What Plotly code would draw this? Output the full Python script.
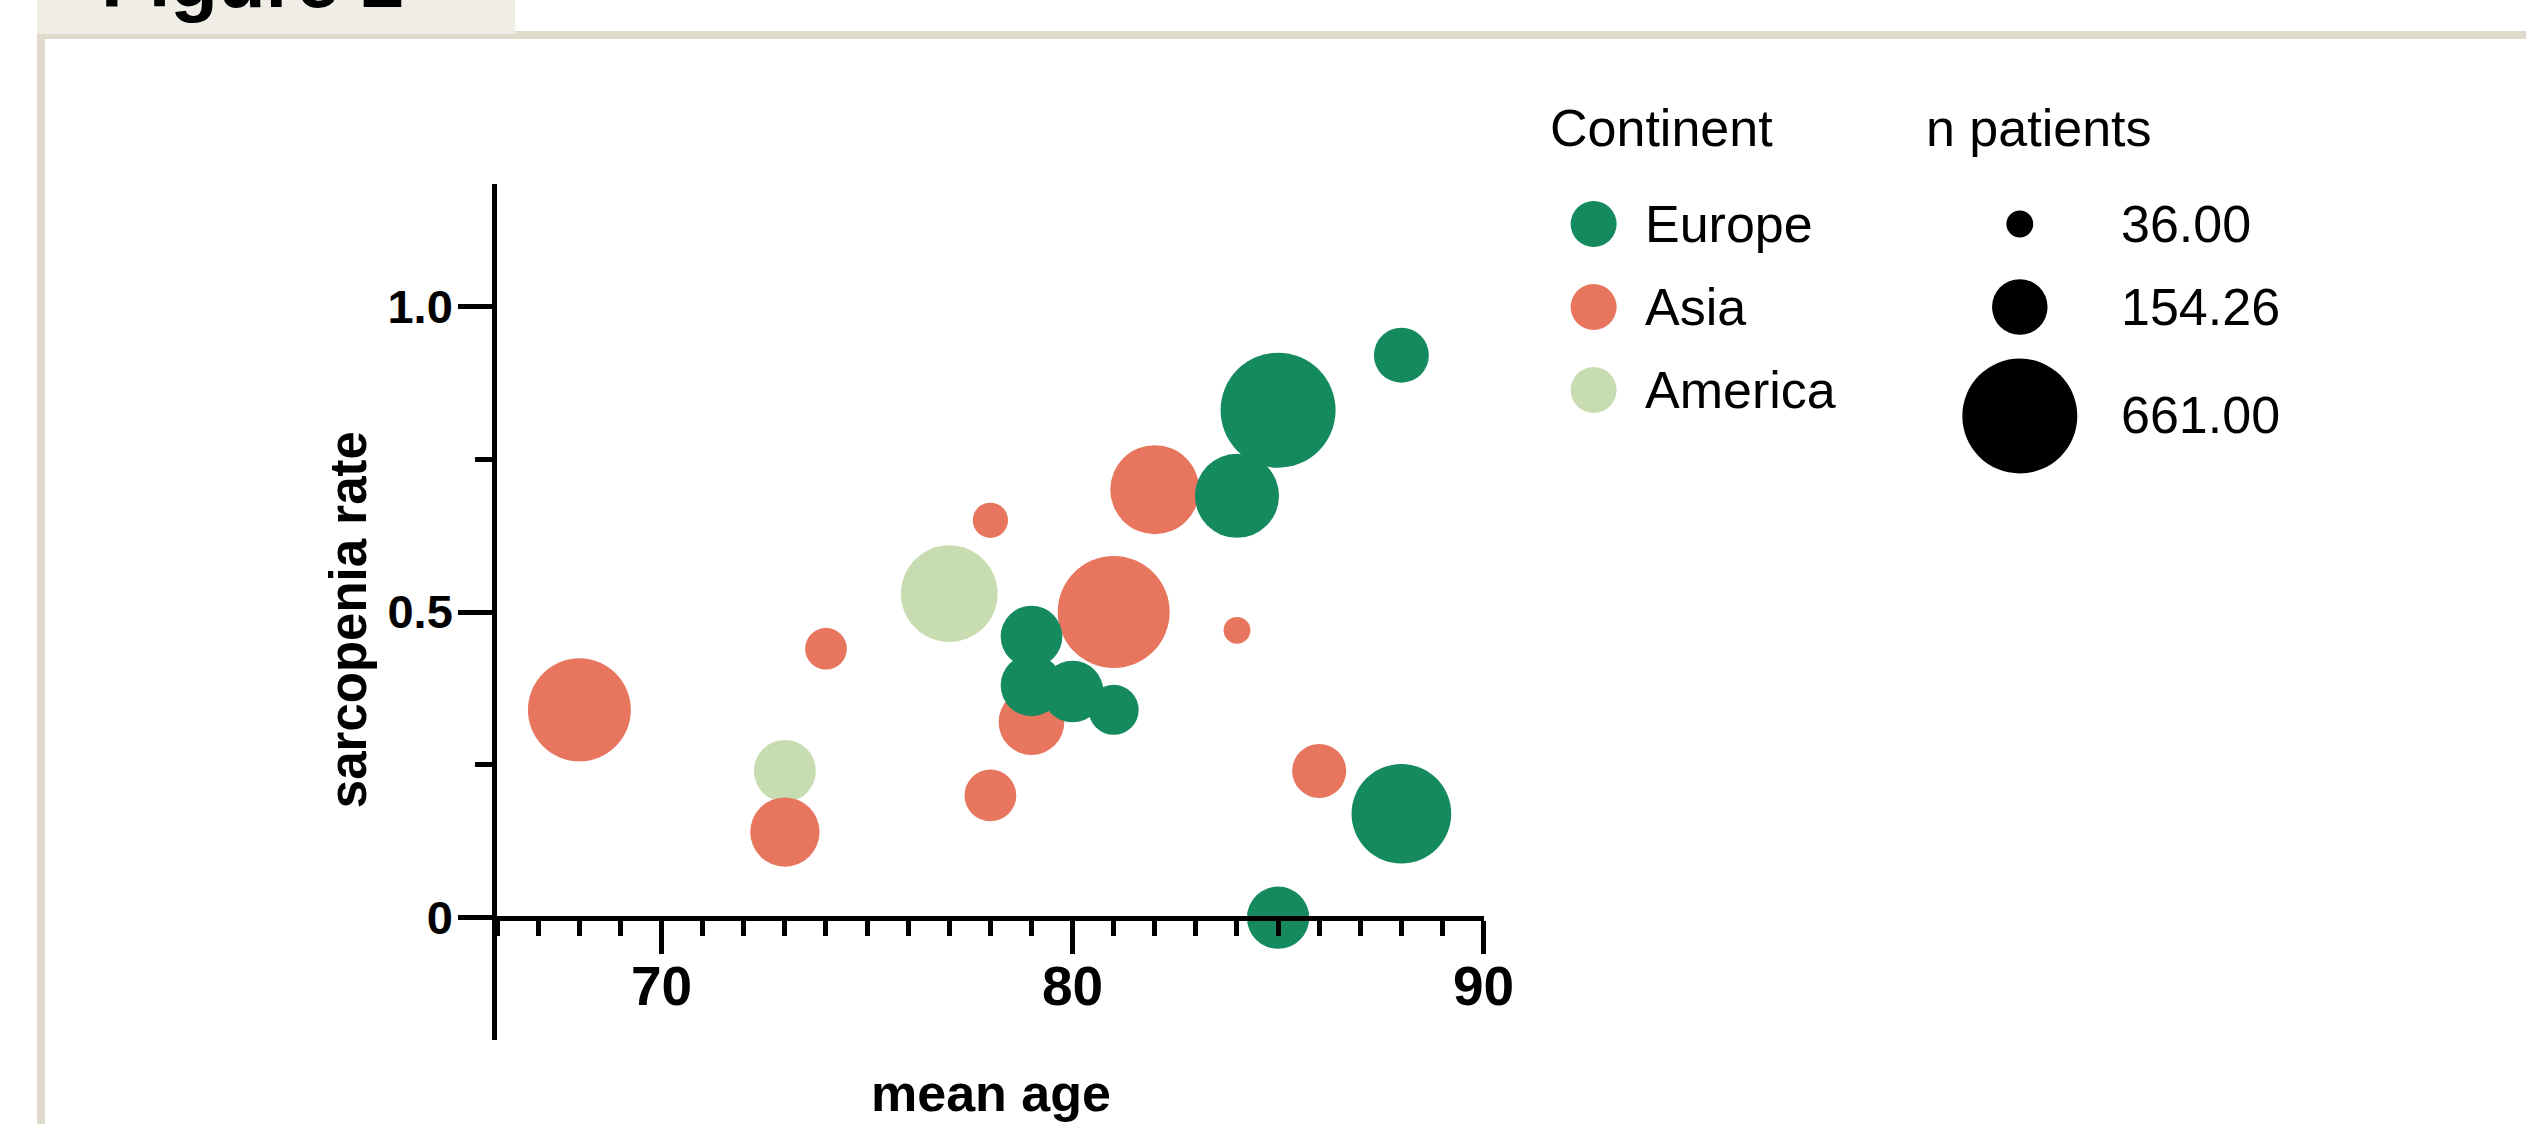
import plotly.graph_objects as go

W, H = 2526, 1124          # target picture size
FIG_W = 2558               # layout width handed to plotly
FONT = "Liberation Sans, Arial, Helvetica, sans-serif"

# ---- data -------------------------------------------------------------
continents = ["Europe", "Asia", "America"]
continent_colors = ["#158A5F", "#E8765F", "#C7DCB0"]

europe_age = [79, 79, 80, 81, 84, 85, 88, 88, 85]
europe_rate = [0.46, 0.38, 0.37, 0.34, 0.69, 0.83, 0.92, 0.17, 0.00]
europe_n = [190, 190, 190, 125, 353, 661, 151, 497, 194]

asia_age = [68, 73, 74, 78, 78, 79, 81, 82, 84, 86]
asia_rate = [0.34, 0.14, 0.44, 0.65, 0.20, 0.32, 0.50, 0.70, 0.47, 0.24]
asia_n = [530, 240, 87, 62, 134, 216, 627, 396, 36, 146]

america_age = [73, 77]
america_rate = [0.24, 0.53]
america_n = [192, 467]

size_legend_values = [36.00, 154.26, 661.00]
size_legend_labels = ["36.00", "154.26", "661.00"]

x_major_ticks = [70, 80, 90]
y_major_ticks = [0, 0.5, 1.0]
y_major_text = ["0", "0.5", "1.0"]
y_minor_ticks = [0.25, 0.75]

# ---- geometry ---------------------------------------------------------
PX_L, PX_R, PX_T, PX_B = 497, 1483, 184, 1040   # plot box in pixels
X_RANGE = [66, 90]
Y_RANGE = [-0.2, 1.2]
x_dom = [PX_L / W, PX_R / W]
y_dom = [1 - PX_B / H, 1 - PX_T / H]
x_axis_pos = y_dom[0] + (0 - Y_RANGE[0]) / (Y_RANGE[1] - Y_RANGE[0]) * (y_dom[1] - y_dom[0])

SIZEREF = 0.1  # area-scaled bubbles


def px(x):
    return x / W


def py(y):
    return 1 - y / H


fig = go.Figure()

# bubbles: America at the back, Europe on top
series = [
    ("America", america_age, america_rate, america_n, continent_colors[2]),
    ("Asia", asia_age, asia_rate, asia_n, continent_colors[1]),
    ("Europe", europe_age, europe_rate, europe_n, continent_colors[0]),
]
for name, xs, ys, ns, col in series:
    fig.add_trace(go.Scatter(
        x=xs, y=ys, mode="markers", name=name,
        marker=dict(size=ns, sizemode="area", sizeref=SIZEREF, sizemin=0,
                    color=col, opacity=1, line=dict(width=0)),
        cliponaxis=False, hoverinfo="x+y+text", text=[f"n={v}" for v in ns],
    ))

# ---- legend drawn on a pixel-space overlay axis ----------------------
LEG_DOT_X = 1593
LEG_ROW_Y = [224, 307, 390]
fig.add_trace(go.Scatter(
    x=[LEG_DOT_X] * 3, y=LEG_ROW_Y, mode="markers", xaxis="x2", yaxis="y2",
    marker=dict(size=46, color=continent_colors, opacity=1, line=dict(width=0)),
    hoverinfo="skip", cliponaxis=False,
))
SIZE_DOT_X = 2019
SIZE_ROW_Y = [224, 307, 416]
fig.add_trace(go.Scatter(
    x=[SIZE_DOT_X] * 3, y=SIZE_ROW_Y, mode="markers", xaxis="x2", yaxis="y2",
    marker=dict(size=size_legend_values, sizemode="area", sizeref=SIZEREF,
                color="black", opacity=1, line=dict(width=0)),
    hoverinfo="skip", cliponaxis=False,
))

annotations = []


def label(text, x, y, size, bold=False, xanchor="left", angle=0):
    annotations.append(dict(
        text=text, x=px(x), y=py(y), xref="paper", yref="paper",
        xanchor=xanchor, yanchor="middle", showarrow=False, textangle=angle,
        font=dict(family=FONT, size=size, color="black",
                  weight="bold" if bold else "normal"),
    ))


label("Continent", 1547, 128, 52)
label("n patients", 1923, 128, 52)
for name, yy in zip(continents, LEG_ROW_Y):
    label(name, 1642, yy, 52)
for txt, yy in zip(size_legend_labels, [224, 307, 415]):
    label(txt, 2118, yy, 52)

# axis titles
label("sarcopenia rate", 348, 620, 51, bold=True, xanchor="center", angle=-90)
label("mean age", 991, 1093, 52, bold=True, xanchor="center")

# figure caption in the header tab
label("Figure 2", 99, -20, 78, bold=True)

# ---- header frame ----------------------------------------------------
shapes = [
    dict(type="rect", xref="paper", yref="paper", x0=px(37), x1=1.02, y0=py(39), y1=py(31),
         fillcolor="#E0DACD", line=dict(width=0), layer="below"),
    dict(type="rect", xref="paper", yref="paper", x0=px(37), x1=px(45), y0=py(H), y1=py(31),
         fillcolor="#E0DACD", line=dict(width=0), layer="below"),
    dict(type="rect", xref="paper", yref="paper", x0=px(37), x1=px(515), y0=py(34), y1=py(-5),
         fillcolor="#F0EDE6", line=dict(width=0), layer="below"),
]

tick_font_x = dict(family=FONT, size=55, color="black", weight="bold")
tick_font_y = dict(family=FONT, size=47, color="black", weight="bold")

fig.update_layout(
    width=FIG_W, height=H, autosize=False,
    margin=dict(l=0, r=0, t=0, b=0, pad=0),
    paper_bgcolor="white", plot_bgcolor="rgba(0,0,0,0)",
    showlegend=False,
    annotations=annotations, shapes=shapes,
    xaxis=dict(
        domain=x_dom, range=X_RANGE, anchor="free", position=x_axis_pos,
        showline=True, linecolor="black", linewidth=5, mirror=False,
        showgrid=False, zeroline=False,
        tickmode="array", tickvals=x_major_ticks,
        ticks="outside", ticklen=33, tickwidth=4.5, tickcolor="black",
        tickfont=tick_font_x, ticklabelstandoff=-15,
        minor=dict(dtick=1, tick0=66, ticks="outside", ticklen=15,
                   tickwidth=4.5, tickcolor="black", showgrid=False),
    ),
    yaxis=dict(
        domain=y_dom, range=Y_RANGE, anchor="x",
        showline=True, linecolor="black", linewidth=5,
        showgrid=False, zeroline=False,
        tickmode="array", tickvals=y_major_ticks, ticktext=y_major_text,
        ticks="outside", ticklen=34, tickwidth=4.5, tickcolor="black",
        tickfont=tick_font_y, ticklabelstandoff=-4,
        minor=dict(tickmode="array", tickvals=y_minor_ticks, ticks="outside",
                   ticklen=17, tickwidth=4.5, tickcolor="black", showgrid=False),
    ),
    xaxis2=dict(domain=[0, 1], range=[0, W], anchor="y2", visible=False, fixedrange=True),
    yaxis2=dict(domain=[0, 1], range=[H, 0], anchor="x2", visible=False, fixedrange=True),
)

fig.write_html("out.html", config={"responsive": False})
